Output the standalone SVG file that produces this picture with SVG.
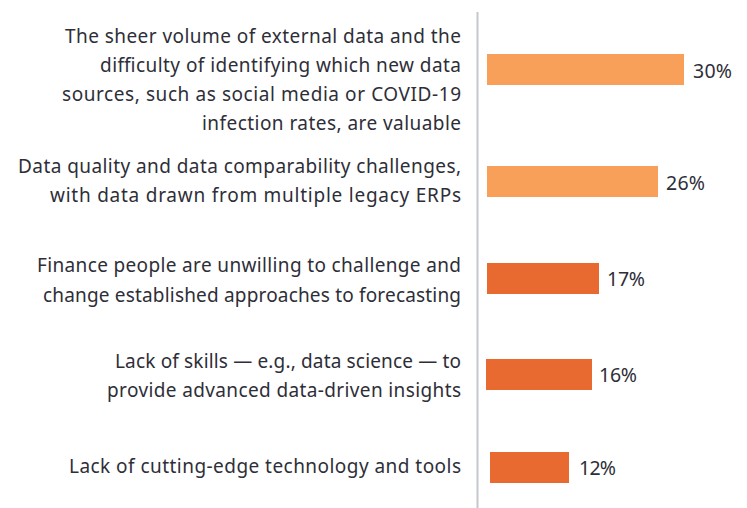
<svg xmlns="http://www.w3.org/2000/svg" width="747" height="508" viewBox="0 0 747 508">
<style>
.lbl{font-family:"Noto Sans","Liberation Sans",Arial,sans-serif;font-size:19px;fill:#2e2e38;text-anchor:end}
.val{font-family:"Noto Sans","Liberation Sans",Arial,sans-serif;font-size:19.5px;fill:#2e2e38}
.light{fill:#f8a05a}
.dark{fill:#e96a30}
</style>
<rect width="747" height="508" fill="#ffffff"/>
<g id="axis"><line x1="477.5" y1="12" x2="477.5" y2="508" stroke="#c4c8cc" stroke-width="2"/></g>
<g id="row1">
<text class="lbl" x="461" y="43" textLength="396" lengthAdjust="spacing">The sheer volume of external data and the</text>
<text class="lbl" x="461" y="72" textLength="361" lengthAdjust="spacing">difficulty of identifying which new data</text>
<text class="lbl" x="461" y="101" textLength="399" lengthAdjust="spacing">sources, such as social media or COVID-19</text>
<text class="lbl" x="461" y="130" textLength="259" lengthAdjust="spacing">infection rates, are valuable</text>
<rect class="light" x="487" y="54" width="197" height="31"/>
<text class="val" x="693" y="78" textLength="39" lengthAdjust="spacing">30%</text>
</g>
<g id="row2">
<text class="lbl" x="461" y="173" textLength="443" lengthAdjust="spacing">Data quality and data comparability challenges,</text>
<text class="lbl" x="461" y="202" textLength="411" lengthAdjust="spacing">with data drawn from multiple legacy ERPs</text>
<rect class="light" x="487" y="166" width="171" height="31"/>
<text class="val" x="666" y="190" textLength="39" lengthAdjust="spacing">26%</text>
</g>
<g id="row3">
<text class="lbl" x="461" y="272" textLength="424" lengthAdjust="spacing">Finance people are unwilling to challenge and</text>
<text class="lbl" x="461" y="302" textLength="418" lengthAdjust="spacing">change established approaches to forecasting</text>
<rect class="dark" x="487" y="263" width="112" height="31"/>
<text class="val" x="607" y="286" textLength="38" lengthAdjust="spacing">17%</text>
</g>
<g id="row4">
<text class="lbl" x="461" y="368" textLength="346" lengthAdjust="spacing">Lack of skills — e.g., data science — to</text>
<text class="lbl" x="461" y="397" textLength="354" lengthAdjust="spacing">provide advanced data-driven insights</text>
<rect class="dark" x="486" y="359" width="106" height="31"/>
<text class="val" x="599" y="382" textLength="38" lengthAdjust="spacing">16%</text>
</g>
<g id="row5">
<text class="lbl" x="461" y="473" textLength="392" lengthAdjust="spacing">Lack of cutting-edge technology and tools</text>
<rect class="dark" x="490" y="452" width="79" height="31"/>
<text class="val" x="579" y="475" textLength="37" lengthAdjust="spacing">12%</text>
</g>
</svg>
